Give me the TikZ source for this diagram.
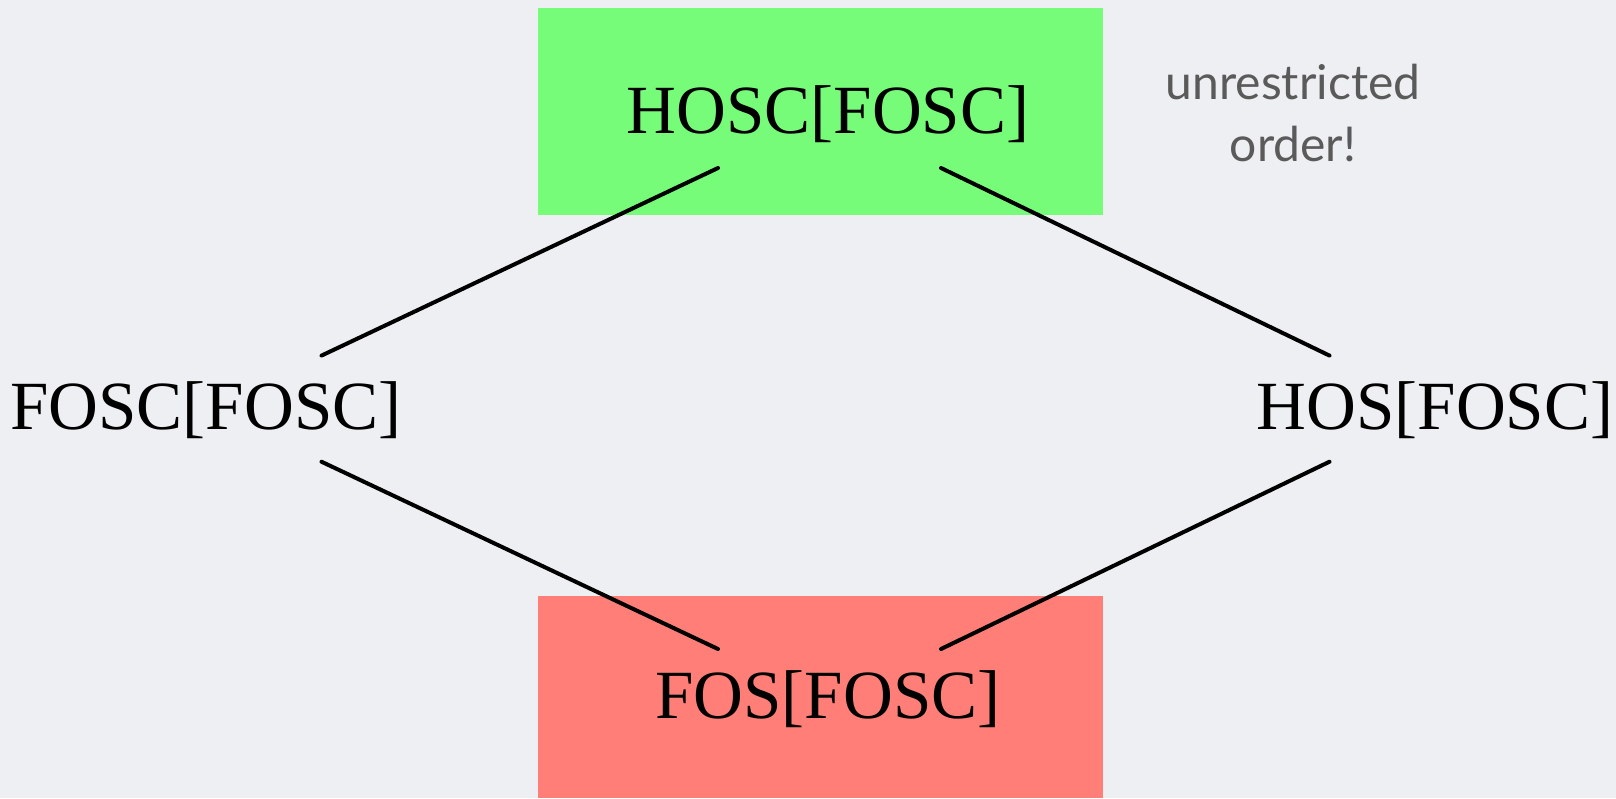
\documentclass[tikz,border=0pt]{standalone}
\usepackage{fontspec}
\setmainfont{Liberation Serif}
\newfontfamily\notefont{Lato}
\definecolor{bgcol}{HTML}{EDEFF2}
\definecolor{topgreen}{HTML}{77FC7A}
\definecolor{botred}{HTML}{FF7F78}
\definecolor{notegray}{HTML}{5A5A5A}
\begin{document}
\begin{tikzpicture}[x=1pt,y=-1pt,
  lattice/.style={font=\fontsize{69}{80}\selectfont, inner sep=0pt, anchor=center},
  colbox/.style={draw=none, inner sep=0pt, minimum width=565pt, minimum height=#1},
  edge/.style={line width=4pt, line cap=round},
  notestyle/.style={font=\notefont\fontsize{48}{62}\selectfont, text=notegray, align=center}]
\fill[bgcol] (0,0) rectangle (1616,798);
\useasboundingbox (0,0) rectangle (1616,798);
\node[colbox=207pt, fill=topgreen] (greenbox) at (820.5,111.8) {};
\node[colbox=202pt, fill=botred] (redbox) at (820.5,697) {};
\node[lattice] (hosc) at (828,114) {HOSC[FOSC]};
\node[lattice] (fosc) at (206,410) {FOSC[FOSC]};
\node[lattice] (hos) at (1435,410) {HOS[FOSC]};
\node[lattice] (fos) at (828,699) {FOS[FOSC]};
\node[notestyle] (note) at (1293,113) {unrestricted\\order!};
\coordinate (hoscL) at (718,168);
\coordinate (hoscR) at (941,168);
\coordinate (foscT) at (321.5,355.6);
\coordinate (foscB) at (321.5,461.7);
\coordinate (hosT) at (1329.5,355.6);
\coordinate (hosB) at (1329.5,461.7);
\coordinate (fosL) at (718,649);
\coordinate (fosR) at (941,649);
\draw[edge] (hoscL) -- (foscT);
\draw[edge] (hoscR) -- (hosT);
\draw[edge] (foscB) -- (fosL);
\draw[edge] (hosB) -- (fosR);
\end{tikzpicture}
\end{document}
